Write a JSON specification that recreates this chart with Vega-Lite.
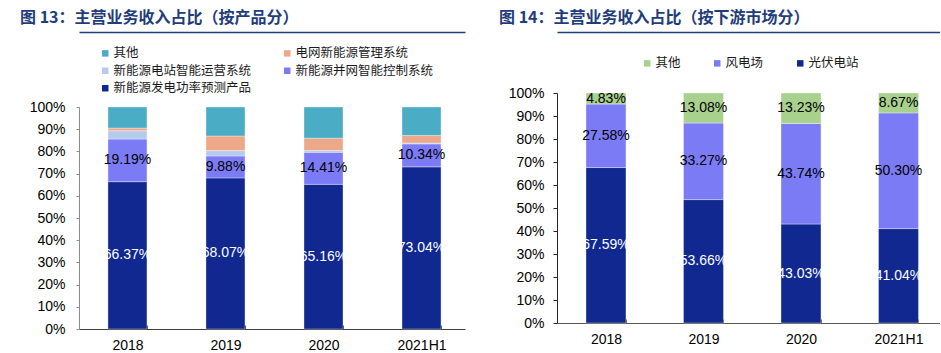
{
  "$schema": "https://vega.github.io/schema/vega-lite/v6.json",
  "padding": {"left": 20, "top": 10, "right": 0, "bottom": 0},
  "spacing": 34,
  "background": "white",
  "config": {
    "view": {"stroke": null},
    "font": "Liberation Sans",
    "axis": {"grid": false, "labelFont": "Liberation Sans", "labelFontSize": 14, "labelColor": "#000000", "title": null, "labelOverlap": false},
    "legend": {"orient": "none", "title": null, "padding": 0, "symbolType": "square", "symbolSize": 42, "symbolStrokeWidth": 0, "labelFont": "Noto Sans CJK SC", "labelFontSize": 12.5, "labelColor": "#1a1a1a", "labelOffset": 2, "rowPadding": 4.5},
    "title": {"anchor": "start", "frame": "group", "font": "Noto Sans CJK SC", "fontSize": 16, "fontWeight": "bold", "color": "#1F3D7A", "offset": 6}
  },
  "resolve": {"scale": {"color": "independent", "x": "independent", "y": "independent"}, "legend": {"color": "independent"}},
  "hconcat": [
    {
      "title": {"text": "图 13：主营业务收入占比（按产品分）", "dx": -59},
      "width": 386,
      "height": 236,
      "data": {"values": [
        {"year": "2018", "cat": "新能源发电功率预测产品", "value": 0.6637, "ord": 1},
        {"year": "2018", "cat": "新能源并网智能控制系统", "value": 0.1919, "ord": 2},
        {"year": "2018", "cat": "新能源电站智能运营系统", "value": 0.0374, "ord": 3},
        {"year": "2018", "cat": "电网新能源管理系统", "value": 0.012, "ord": 4},
        {"year": "2018", "cat": "其他", "value": 0.095, "ord": 5},
        {"year": "2019", "cat": "新能源发电功率预测产品", "value": 0.6807, "ord": 1},
        {"year": "2019", "cat": "新能源并网智能控制系统", "value": 0.0988, "ord": 2},
        {"year": "2019", "cat": "新能源电站智能运营系统", "value": 0.024, "ord": 3},
        {"year": "2019", "cat": "电网新能源管理系统", "value": 0.066, "ord": 4},
        {"year": "2019", "cat": "其他", "value": 0.1305, "ord": 5},
        {"year": "2020", "cat": "新能源发电功率预测产品", "value": 0.6516, "ord": 1},
        {"year": "2020", "cat": "新能源并网智能控制系统", "value": 0.1441, "ord": 2},
        {"year": "2020", "cat": "新能源电站智能运营系统", "value": 0.008, "ord": 3},
        {"year": "2020", "cat": "电网新能源管理系统", "value": 0.056, "ord": 4},
        {"year": "2020", "cat": "其他", "value": 0.1403, "ord": 5},
        {"year": "2021H1", "cat": "新能源发电功率预测产品", "value": 0.7304, "ord": 1},
        {"year": "2021H1", "cat": "新能源并网智能控制系统", "value": 0.1034, "ord": 2},
        {"year": "2021H1", "cat": "新能源电站智能运营系统", "value": 0.004, "ord": 3},
        {"year": "2021H1", "cat": "电网新能源管理系统", "value": 0.034, "ord": 4},
        {"year": "2021H1", "cat": "其他", "value": 0.1282, "ord": 5}
      ]},
      "resolve": {"axis": {"x": "independent"}},
      "layer": [
        {
          "mark": {"type": "bar", "stroke": "white", "strokeWidth": 0.5, "strokeOpacity": 0.7},
          "encoding": {
            "x": {"field": "year", "type": "nominal", "sort": null,
                  "scale": {"paddingInner": 0.602, "paddingOuter": 0.27, "align": 0.547},
                  "axis": {"labelAngle": 0, "tickBand": "extent", "tickSize": -4, "domainColor": "#404040", "tickColor": "#404040", "labelPadding": 13}},
            "y": {"field": "value", "type": "quantitative", "stack": "zero",
                  "scale": {"domain": [0, 1], "range": [236, 14], "nice": false},
                  "axis": {"values": [0, 0.1, 0.2, 0.3, 0.4, 0.5, 0.6, 0.7, 0.8, 0.9, 1], "format": ".0%", "labelOverlap": false, "labelFontSize": 14, "domainColor": "#8c8c8c", "tickColor": "#8c8c8c", "tickSize": 3, "labelPadding": 11}},
            "color": {"field": "cat", "type": "nominal",
                      "scale": {"domain": ["其他", "新能源电站智能运营系统", "新能源发电功率预测产品", "电网新能源管理系统", "新能源并网智能控制系统"],
                                "range": ["#4BACC6", "#B4CBEC", "#10288F", "#EDA88A", "#7B7BF5"]},
                      "legend": {"legendX": 20, "legendY": -46, "columns": 2, "columnPadding": 29}},
            "order": {"field": "ord", "type": "quantitative", "sort": "ascending"}
          }
        },
        {
          "mark": {"type": "text", "font": "Liberation Sans", "fontSize": 14},
          "encoding": {
            "x": {"field": "year", "type": "nominal", "sort": null,
                  "axis": {"orient": "top", "offset": 61, "domain": true, "labels": false, "ticks": false, "domainColor": "#1F3D7A", "domainWidth": 1.5, "domainOpacity": 1, "zindex": 2}},
            "y": {"field": "value", "type": "quantitative", "stack": "zero", "bandPosition": 0.5,
                  "axis": {"values": [0, 0.1, 0.2, 0.3, 0.4, 0.5, 0.6, 0.7, 0.8, 0.9, 1], "format": ".0%", "labelOverlap": false, "labelFontSize": 14, "domainColor": "#8c8c8c", "tickColor": "#8c8c8c", "tickSize": 3, "labelPadding": 11}},
            "detail": {"field": "cat"},
            "order": {"field": "ord", "type": "quantitative", "sort": "ascending"},
            "text": {"condition": {"test": "datum.ord <= 2", "field": "value", "type": "quantitative", "format": ".2%"}, "value": ""},
            "color": {"condition": {"test": "datum.ord == 1", "value": "white"}, "value": "black"}
          }
        }
      ]
    },
    {
      "title": {"text": "图 14：主营业务收入占比（按下游市场分）", "dx": -58},
      "width": 383,
      "height": 230,
      "data": {"values": [
        {"year": "2018", "cat": "光伏电站", "value": 0.6759, "ord": 1},
        {"year": "2018", "cat": "风电场", "value": 0.2758, "ord": 2},
        {"year": "2018", "cat": "其他", "value": 0.0483, "ord": 3},
        {"year": "2019", "cat": "光伏电站", "value": 0.5366, "ord": 1},
        {"year": "2019", "cat": "风电场", "value": 0.3327, "ord": 2},
        {"year": "2019", "cat": "其他", "value": 0.1308, "ord": 3},
        {"year": "2020", "cat": "光伏电站", "value": 0.4303, "ord": 1},
        {"year": "2020", "cat": "风电场", "value": 0.4374, "ord": 2},
        {"year": "2020", "cat": "其他", "value": 0.1323, "ord": 3},
        {"year": "2021H1", "cat": "光伏电站", "value": 0.4104, "ord": 1},
        {"year": "2021H1", "cat": "风电场", "value": 0.503, "ord": 2},
        {"year": "2021H1", "cat": "其他", "value": 0.0867, "ord": 3}
      ]},
      "resolve": {"axis": {"x": "independent"}},
      "layer": [
        {
          "mark": {"type": "bar", "stroke": "white", "strokeWidth": 0.5, "strokeOpacity": 0.7},
          "encoding": {
            "x": {"field": "year", "type": "nominal", "sort": null,
                  "scale": {"paddingInner": 0.59, "paddingOuter": 0.259, "align": 0.574},
                  "axis": {"labelAngle": 0, "tickBand": "extent", "tickSize": -4, "domainColor": "#595959", "tickColor": "#595959", "labelPadding": 13}},
            "y": {"field": "value", "type": "quantitative", "stack": "zero",
                  "scale": {"domain": [0, 1], "nice": false},
                  "axis": {"values": [0, 0.1, 0.2, 0.3, 0.4, 0.5, 0.6, 0.7, 0.8, 0.9, 1], "format": ".0%", "labelOverlap": false, "labelFontSize": 14, "domainColor": "#262626", "tickColor": "#262626", "tickSize": 4, "labelPadding": 9}},
            "color": {"field": "cat", "type": "nominal",
                      "scale": {"domain": ["其他", "风电场", "光伏电站"], "range": ["#A9D18E", "#7B7BF5", "#10288F"]},
                      "legend": {"legendX": 84, "legendY": -36, "direction": "horizontal", "columnPadding": 30}},
            "order": {"field": "ord", "type": "quantitative", "sort": "ascending"}
          }
        },
        {
          "mark": {"type": "text", "font": "Liberation Sans", "fontSize": 14},
          "encoding": {
            "x": {"field": "year", "type": "nominal", "sort": null,
                  "axis": {"orient": "top", "offset": 61, "domain": true, "labels": false, "ticks": false, "domainColor": "#1F3D7A", "domainWidth": 1.5, "domainOpacity": 1, "zindex": 2}},
            "y": {"field": "value", "type": "quantitative", "stack": "zero", "bandPosition": 0.5,
                  "axis": {"values": [0, 0.1, 0.2, 0.3, 0.4, 0.5, 0.6, 0.7, 0.8, 0.9, 1], "format": ".0%", "labelOverlap": false, "labelFontSize": 14, "domainColor": "#262626", "tickColor": "#262626", "tickSize": 4, "labelPadding": 9}},
            "detail": {"field": "cat"},
            "order": {"field": "ord", "type": "quantitative", "sort": "ascending"},
            "text": {"field": "value", "type": "quantitative", "format": ".2%"},
            "color": {"condition": {"test": "datum.ord == 1", "value": "white"}, "value": "black"}
          }
        }
      ]
    }
  ]
}
